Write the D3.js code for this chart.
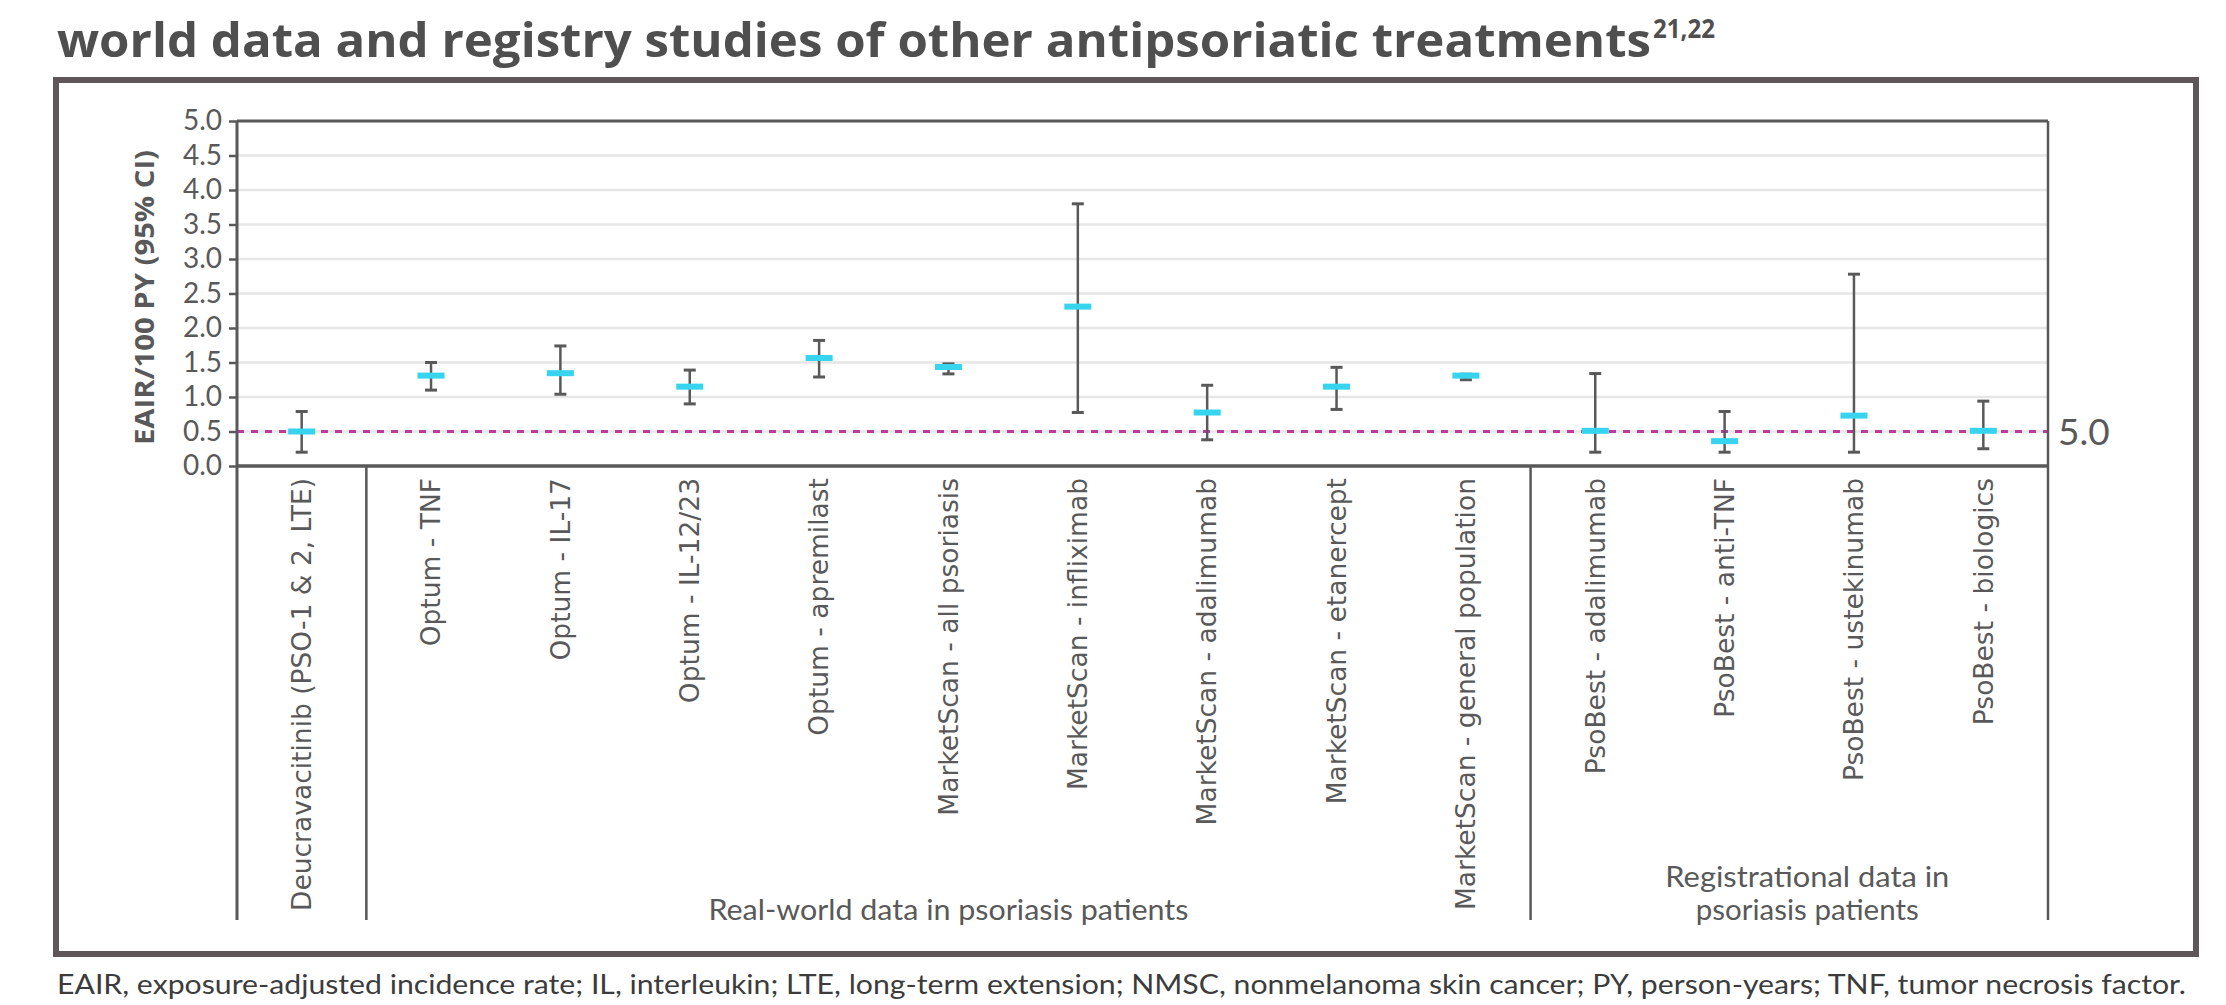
<!DOCTYPE html>
<html>
<head>
<meta charset="utf-8">
<script src="https://d3js.org/d3.v7.min.js"></script>
<style>
  html, body { margin: 0; padding: 0; background: #fff; }
  svg { display: block; }
</style>
</head>
<body>
<svg id="chart" width="2226" height="1005"></svg>
<script>
// chart data
var categories = [
    "Deucravacitinib (PSO-1 & 2, LTE)",
    "Optum - TNF",
    "Optum - IL-17",
    "Optum - IL-12/23",
    "Optum - apremilast",
    "MarketScan - all psoriasis",
    "MarketScan - infliximab",
    "MarketScan - adalimumab",
    "MarketScan - etanercept",
    "MarketScan - general population",
    "PsoBest - adalimumab",
    "PsoBest - anti-TNF",
    "PsoBest - ustekinumab",
    "PsoBest - biologics"
];
var estimates = [0.50, 1.31, 1.345, 1.15, 1.565, 1.435, 2.31, 0.775, 1.15, 1.31, 0.51, 0.36, 0.73, 0.51];
var lowerCI   = [0.20, 1.10, 1.04, 0.90, 1.29, 1.335, 0.775, 0.38, 0.82, 1.25, 0.20, 0.20, 0.20, 0.25];
var upperCI   = [0.79, 1.50, 1.74, 1.39, 1.82, 1.48, 3.80, 1.17, 1.43, 1.33, 1.34, 0.79, 2.78, 0.94];

var yTicks = [0, 0.5, 1, 1.5, 2, 2.5, 3, 3.5, 4, 4.5, 5];
var refValue = 0.5;
var refLabel = "5.0";

var groupNames = [["Real-world data in psoriasis patients"], ["Registrational data in", "psoriasis patients"]];
var groupStart = [1, 10];
var groupEnd = [9, 13];

var yTitle = "EAIR/100 PY (95% CI)";
var titleText = "world data and registry studies of other antipsoriatic treatments";
var titleSup = "21,22";
var footnote = "EAIR, exposure-adjusted incidence rate; IL, interleukin; LTE, long-term extension; NMSC, nonmelanoma skin cancer; PY, person-years; TNF, tumor necrosis factor.";

var textColor = "#595959";
var lineColor = "#595959";

var svg = d3.select("#chart");

// title + frame
svg.append("text")
    .attr("x", 57).attr("y", 57)
    .attr("font-family", "'Open Sans', sans-serif")
    .attr("font-weight", 700)
    .attr("font-size", 47)
    .attr("fill", "#4f4f4f")
    .attr("textLength", 1594)
    .attr("lengthAdjust", "spacingAndGlyphs")
    .text(titleText);
svg.append("text")
    .attr("x", 1653).attr("y", 38)
    .attr("font-family", "'Open Sans', sans-serif")
    .attr("font-weight", 700)
    .attr("font-size", 26)
    .attr("fill", "#4f4f4f")
    .attr("textLength", 62)
    .attr("lengthAdjust", "spacingAndGlyphs")
    .text(titleSup);

svg.append("rect")
    .attr("x", 56).attr("y", 80)
    .attr("width", 2140).attr("height", 874)
    .attr("fill", "none")
    .attr("stroke", "#5e5658")
    .attr("stroke-width", 6);

var plotLeft = 237, plotRight = 2048, plotTop = 121, plotBottom = 466, dividerBottom = 920;

var x = d3.scaleBand()
    .domain(categories)
    .range([plotLeft, plotRight])
    .padding(0);

var y = d3.scaleLinear()
    .domain([0, 5])
    .range([plotBottom, plotTop]);

// gridlines
svg.append("g")
    .selectAll("line")
    .data(yTicks.filter(function (d) { return d > 0 && d < 5; }))
    .enter().append("line")
    .attr("x1", plotLeft).attr("x2", plotRight)
    .attr("y1", function (d) { return y(d); })
    .attr("y2", function (d) { return y(d); })
    .attr("stroke", "#e6e6e6")
    .attr("stroke-width", 2.5);

// reference line
svg.append("line")
    .attr("x1", plotLeft).attr("x2", plotRight)
    .attr("y1", y(refValue)).attr("y2", y(refValue))
    .attr("stroke", "#b83d9c")
    .attr("stroke-width", 3)
    .attr("stroke-dasharray", "7,7");
svg.append("text")
    .attr("x", plotRight + 10)
    .attr("y", y(refValue))
    .attr("dy", "0.36em")
    .attr("font-family", "Lato, sans-serif")
    .attr("font-size", 37)
    .attr("fill", textColor)
    .text(refLabel);

// y axis
var yAxis = d3.axisLeft(y)
    .tickValues(yTicks)
    .tickFormat(d3.format(".1f"))
    .tickSize(8)
    .tickPadding(7);

var gy = svg.append("g")
    .attr("transform", "translate(" + plotLeft + ",0)")
    .call(yAxis);
gy.select(".domain").remove();
gy.selectAll(".tick line").attr("stroke", lineColor).attr("stroke-width", 2.5);
gy.selectAll(".tick text")
    .attr("font-family", "Lato, sans-serif")
    .attr("font-size", 28)
    .attr("fill", textColor);

svg.append("text")
    .attr("transform", "translate(145," + ((plotTop + plotBottom) / 2 + 4) + ") rotate(-90)")
    .attr("text-anchor", "middle")
    .attr("dy", "0.35em")
    .attr("font-family", "'Open Sans', sans-serif")
    .attr("font-weight", 700)
    .attr("font-size", 26)
    .attr("fill", textColor)
    .attr("textLength", 295)
    .attr("lengthAdjust", "spacingAndGlyphs")
    .text(yTitle);

// plot box and dividers
var frame = svg.append("g").attr("stroke", lineColor).attr("fill", "none");
frame.append("line").attr("x1", plotLeft).attr("x2", plotRight).attr("y1", plotTop).attr("y2", plotTop).attr("stroke-width", 3);
frame.append("line").attr("x1", plotLeft).attr("x2", plotLeft).attr("y1", plotTop).attr("y2", dividerBottom).attr("stroke-width", 3);
frame.append("line").attr("x1", plotRight).attr("x2", plotRight).attr("y1", plotTop).attr("y2", dividerBottom).attr("stroke-width", 2.5);
frame.append("line").attr("x1", plotLeft).attr("x2", plotRight).attr("y1", plotBottom).attr("y2", plotBottom).attr("stroke-width", 3.5);
frame.selectAll(".divider")
    .data(groupStart)
    .enter().append("line")
    .attr("class", "divider")
    .attr("x1", function (d) { return x(categories[d]); })
    .attr("x2", function (d) { return x(categories[d]); })
    .attr("y1", plotBottom).attr("y2", dividerBottom)
    .attr("stroke-width", 2.5);

// error bars
var rows = categories.map(function (c, i) {
    return { name: c, est: estimates[i], lo: lowerCI[i], hi: upperCI[i] };
});

var bars = svg.append("g").selectAll(".bar")
    .data(rows)
    .enter().append("g")
    .attr("class", "bar")
    .attr("transform", function (d) { return "translate(" + (x(d.name) + x.bandwidth() / 2) + ",0)"; });

bars.append("line")
    .attr("y1", function (d) { return y(d.lo); })
    .attr("y2", function (d) { return y(d.hi); })
    .attr("stroke", lineColor)
    .attr("stroke-width", 2.5);
bars.append("line")
    .attr("x1", -6).attr("x2", 6)
    .attr("y1", function (d) { return y(d.hi); })
    .attr("y2", function (d) { return y(d.hi); })
    .attr("stroke", lineColor)
    .attr("stroke-width", 3);
bars.append("line")
    .attr("x1", -6).attr("x2", 6)
    .attr("y1", function (d) { return y(d.lo); })
    .attr("y2", function (d) { return y(d.lo); })
    .attr("stroke", lineColor)
    .attr("stroke-width", 3);
bars.append("rect")
    .attr("x", -13.5).attr("width", 27)
    .attr("y", function (d) { return y(d.est) - 3; })
    .attr("height", 6)
    .attr("fill", "#36d4ee");

// category labels
svg.append("g").selectAll(".cat")
    .data(categories)
    .enter().append("text")
    .attr("class", "cat")
    .attr("transform", function (d) { return "translate(" + (x(d) + x.bandwidth() / 2) + "," + (plotBottom + 12) + ") rotate(-90)"; })
    .attr("text-anchor", "end")
    .attr("dy", "0.35em")
    .attr("font-family", "'DejaVu Sans', sans-serif")
    .attr("font-size", 26.5)
    .attr("fill", textColor)
    .text(function (d) { return d; });

// group labels (condensed to the reference widths)
var groupWidths = [[480], [284, 223]];
groupNames.forEach(function (lines, g) {
    var cx = (x(categories[groupStart[g]]) + x(categories[groupEnd[g]]) + x.bandwidth()) / 2;
    lines.forEach(function (l, k) {
        svg.append("text")
            .attr("x", cx + (g === 1 ? 18 : 0))
            .attr("y", 920 - (lines.length - 1 - k) * 33)
            .attr("text-anchor", "middle")
            .attr("font-family", "Lato, sans-serif")
            .attr("font-size", 29)
            .attr("fill", textColor)
            .attr("textLength", groupWidths[g][k])
            .attr("lengthAdjust", "spacingAndGlyphs")
            .text(l);
    });
});

// footnote
svg.append("text")
    .attr("x", 57).attr("y", 994)
    .attr("font-family", "Lato, sans-serif")
    .attr("font-size", 27)
    .attr("fill", "#3c3c3c")
    .attr("textLength", 2129)
    .attr("lengthAdjust", "spacingAndGlyphs")
    .text(footnote);
</script>
</body>
</html>
